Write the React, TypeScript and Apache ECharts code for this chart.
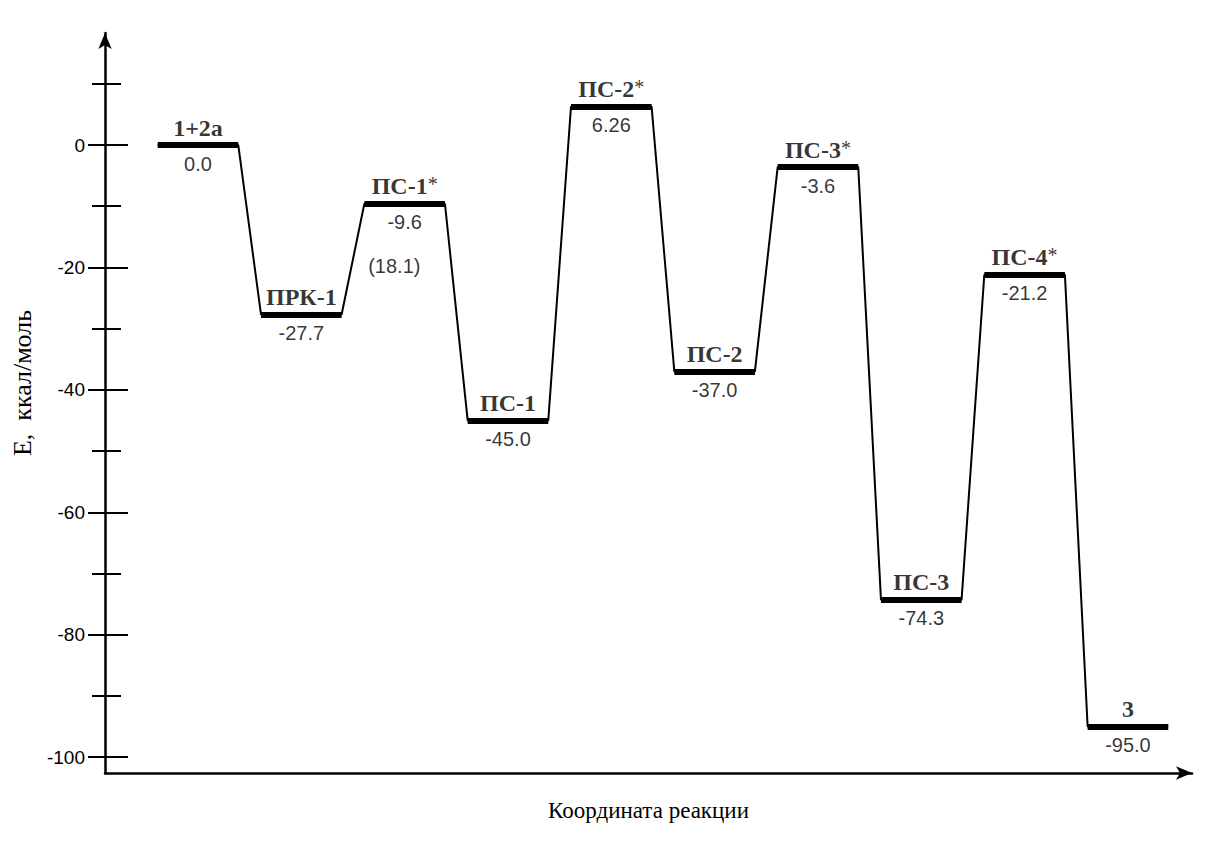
import React, { useEffect, useRef } from "react";
import * as echarts from "echarts";

const levelNames = ["1+2a", "ПРК-1", "ПС-1*", "ПС-1", "ПС-2*", "ПС-2", "ПС-3*", "ПС-3", "ПС-4*", "3"];
const energies = [0.0, -27.7, -9.6, -45.0, 6.26, -37.0, -3.6, -74.3, -21.2, -95.0];
const energyLabels = ["0.0", "-27.7", "-9.6", "-45.0", "6.26", "-37.0", "-3.6", "-74.3", "-21.2", "-95.0"];
const extraNote = { level: 2, text: "(18.1)" };
const majorTicks = [-100, -80, -60, -40, -20, 0];
const minorTicks = [-90, -70, -50, -30, -10, 10];

const HALF = 0.39;

function nameRich(n: string) {
  if (n.endsWith("*")) return "{b|" + n.slice(0, -1) + "}{s|*}";
  return "{b|" + n + "}";
}

export default function App() {
  const ref = useRef<HTMLDivElement>(null);
  useEffect(() => {
    const chart = echarts.init(ref.current!, null, { renderer: "svg" });
    const pathPts: number[][] = [];
    energies.forEach((e, i) => {
      pathPts.push([i - HALF, e], [i + HALF, e]);
    });
    const yMin = -102.6;
    const yMax = 18.3;
    const baseY = {
      type: "value",
      min: yMin,
      max: yMax,
      position: "left",
      splitLine: { show: false },
    } as any;
    const option: any = {
      animation: false,
      backgroundColor: "#ffffff",
      grid: { left: 105, right: 19, top: 33, bottom: 75, containLabel: false, outerBoundsMode: "none" },
      xAxis: {
        type: "value",
        min: -0.9,
        max: 9.62,
        axisLine: { show: true, onZero: false, lineStyle: { color: "#000", width: 2.5 }, symbol: ["none", "arrow"], symbolSize: [10, 16] },
        axisTick: { show: false },
        axisLabel: { show: false },
        splitLine: { show: false },
        name: "Координата реакции",
        nameLocation: "middle",
        nameGap: 26,
        nameTextStyle: { fontFamily: "Liberation Serif", fontSize: 23, color: "#000" },
      },
      yAxis: [
        {
          ...baseY,
          offset: 0,
          axisLine: { show: true, onZero: false, lineStyle: { color: "#000", width: 2.5 }, symbol: ["none", "arrow"], symbolSize: [10, 16] },
          axisTick: { show: false },
          axisLabel: { show: true, customValues: majorTicks, margin: 20, fontFamily: "Liberation Sans", fontSize: 19, color: "#000" },
          name: "E,  ккал/моль",
          nameLocation: "middle",
          nameGap: 70,
          nameRotate: 90,
          nameTextStyle: { fontFamily: "Liberation Serif", fontSize: 26, color: "#000", padding: [0, 0, 0, 40] },
        },
        {
          ...baseY,
          offset: -23,
          axisLine: { show: false, onZero: false },
          axisTick: { show: true, inside: false, length: 40, customValues: majorTicks, lineStyle: { color: "#000", width: 2 } },
          axisLabel: { show: false },
        },
        {
          ...baseY,
          offset: -16,
          axisLine: { show: false, onZero: false },
          axisTick: { show: true, inside: false, length: 29, customValues: minorTicks, lineStyle: { color: "#000", width: 2 } },
          axisLabel: { show: false },
        },
      ],
      series: [
        {
          type: "line",
          data: pathPts,
          symbol: "none",
          lineStyle: { color: "#000", width: 2 },
          silent: true,
          z: 2,
        },
        {
          type: "lines",
          coordinateSystem: "cartesian2d",
          data: energies.map((e, i) => ({ coords: [[i - HALF, e], [i + HALF, e]] })),
          lineStyle: { color: "#000", width: 6, opacity: 1 },
          silent: true,
          z: 3,
        },
        {
          type: "scatter",
          data: energies.map((e, i) => [i, e]),
          symbolSize: 1,
          itemStyle: { color: "transparent" },
          label: {
            show: true,
            position: "top",
            distance: 5,
            color: "#000",
            formatter: (p: any) => nameRich(levelNames[p.dataIndex]),
            rich: {
              b: { fontFamily: "Liberation Serif", fontWeight: "bold", fontSize: 24, color: "#000" },
              s: { fontFamily: "Liberation Serif", fontSize: 20, color: "#000", verticalAlign: "top" },
            },
          },
          z: 4,
        },
        {
          type: "scatter",
          data: energies.map((e, i) => [i, e]),
          symbolSize: 1,
          itemStyle: { color: "transparent" },
          label: {
            show: true,
            position: "bottom",
            distance: 8,
            formatter: (p: any) => energyLabels[p.dataIndex],
            fontFamily: "Liberation Sans",
            fontSize: 20,
            color: "#000",
          },
          z: 4,
        },
        {
          type: "scatter",
          data: [[extraNote.level - 0.1, energies[extraNote.level]]],
          symbolSize: 1,
          itemStyle: { color: "transparent" },
          label: {
            show: true,
            position: "bottom",
            distance: 52,
            formatter: extraNote.text,
            fontFamily: "Liberation Sans",
            fontSize: 20,
            color: "#000",
          },
          z: 4,
        },
      ],
    };
    chart.setOption(option);
    return () => chart.dispose();
  }, []);
  return <div ref={ref} style={{ position: "absolute", left: 0, top: 0, width: 1211, height: 848 }} />;
}
